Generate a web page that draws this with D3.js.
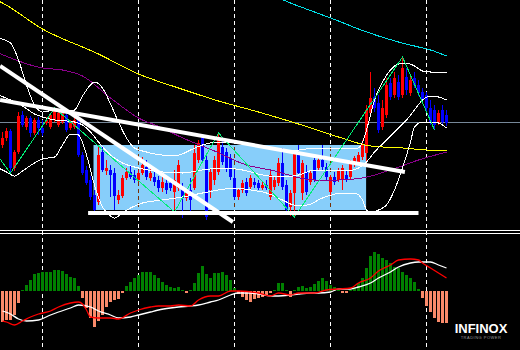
<!DOCTYPE html>
<html>
<head>
<meta charset="utf-8">
<script src="https://cdn.jsdelivr.net/npm/d3@7"></script>
<style>
  html, body { margin: 0; padding: 0; background: #000; overflow: hidden; }
  svg { display: block; }
</style>
</head>
<body>
<svg id="chart" width="520" height="350"></svg>
<script>
// candles, oldest first: [open, high, low, close]
const candles = [
  [155,168,152,162],[162,172,159,169],[169,171,127,132],[132,150,129,148],[148,188,146,184],
  [185,189,173,175],[173,184,170,182],[182,184,163,167],[167,182,165,180],[180,183,165,172],
  [172,180,164,167],[177,183,175,180],[173,187,171,185],[180,192,178,190],[175,189,173,187],
  [178,189,176,187],[185,188,168,170],[172,180,170,177],[173,183,171,180],[182,186,143,145],
  [145,148,125,127],[130,134,115,117],[120,124,100,103],[105,110,85,90],[98,154,95,145],
  [148,154,128,130],[129,140,125,132],[130,135,103,125],[127,132,90,104],[100,110,96,105],
  [104,125,102,122],[122,132,120,128],[128,134,121,123],[125,130,117,120],[120,130,118,127],
  [127,143,125,135],[133,140,120,123],[122,132,119,127],[123,128,114,118],[120,124,108,112],
  [112,124,108,118],[117,122,106,110],[117,122,109,112],[108,130,90,120],[112,140,109,135],
  [112,117,82,102],[102,110,99,107],[110,122,88,100],[112,155,110,147],[140,160,137,157],
  [163,166,138,140],[140,145,80,83],[110,132,102,128],[120,144,115,140],[128,167,125,160],
  [153,160,135,138],[148,152,128,132],[142,146,120,123],[122,130,100,103],[103,112,100,110],
  [110,120,107,117],[118,122,104,107],[113,125,110,122],[118,122,112,115],[117,120,110,112],
  [112,118,110,115],[115,120,110,112],[103,130,100,125],[113,124,110,120],[117,142,114,137],
  [137,152,110,113],[115,120,87,90],[93,110,84,107],[107,148,83,147],[145,155,125,127],
  [107,140,100,137],[128,135,105,108],[118,130,115,127],[140,145,118,120],[132,145,130,140],
  [140,155,130,133],[133,137,120,123],[108,125,105,123],[123,128,115,118],[120,132,118,130],
  [120,135,110,132],[125,130,118,120],[123,140,121,137],[135,144,133,142],[138,148,135,145],
  [143,160,140,155],[147,195,135,190],[187,228,185,202],[203,212,188,192],[197,205,167,170],
  [173,200,170,192],[185,222,182,215],[217,222,200,203],[205,228,202,222],[218,225,200,203],
  [205,243,202,232],[223,232,205,210],[207,225,204,220],[222,228,212,215],[215,220,204,207],
  [208,212,197,200],[205,208,188,192],[192,200,175,178],[190,195,170,175],[177,190,175,187],
  [190,195,174,178],[185,190,174,177]
];

// candle indexes where the day separators fall
const gridCandles = [10, 34, 58, 82, 106];
const levelPrice = 178.5;

// indicator lines as [candle index, value]
const maYellow = [[-1,299],[0,297],[10,271],[24,246],[34,226],[44,212],[54,199],[64,188],[74,176],[84,163],[92,154],[100,152],[106,150],[111,149]];
const maPurple = [[-1,247],[10,232],[15,230],[20,224],[27,202],[34,182],[40,172],[44,164],[53,149],[61,135],[67,130],[78,120],[84,120],[90,122],[97,130],[104,140],[111,148]];
const maCyan = [[68,304],[72,297],[78,288],[84,279],[89,271],[94,264],[99,258],[104,253],[107,250],[111,244]];
const zigzag = [[-1,143],[2,127],[13,192],[43,88],[54,167],[73,83],[100,243],[108,170]];
const bandUpper = [[-1,262],[2,257],[4,240],[6,215],[8,195],[10,188],[13,190],[16,189],[18,190],[20,204],[22,215],[23,218],[25,212],[27,196],[29,178],[31,162],[33,152],[36,148],[40,145],[44,145],[47,150],[50,155],[54,158],[58,157],[62,155],[66,153],[70,150],[74,150],[78,152],[82,152],[86,151],[89,152],[90,158],[91,170],[92,185],[93,200],[95,218],[97,230],[99,236],[101,237],[103,234],[105,229],[107,228],[109,228],[111,228]];
const bandMiddle = [[-1,205],[2,200],[5,194],[8,186],[10,183],[13,180],[16,179],[18,178],[20,175],[22,168],[24,158],[27,145],[30,137],[34,132],[40,128],[45,127],[50,130],[55,132],[60,130],[65,125],[70,123],[74,125],[78,130],[82,130],[86,129],[89,132],[91,138],[93,148],[96,160],[99,172],[101,180],[103,190],[105,200],[107,204],[109,203],[111,200]];
const bandLower = [[-1,132],[1,128],[3,124],[5,129],[8,137],[10,141],[13,143],[15,155],[17,166],[19,165],[21,145],[23,115],[25,93],[27,84],[28,82],[30,87],[32,92],[35,97],[40,100],[45,103],[50,107],[54,110],[58,112],[62,110],[66,107],[70,100],[73,95],[76,95],[80,102],[85,107],[88,107],[90,100],[91,90],[92,87],[94,90],[96,95],[98,110],[100,132],[102,158],[103,173],[105,178],[107,178],[109,177],[111,172]];

// drawn objects: trend lines and the range box, in [candle index, price]
const trendLines = [
  [[-0.6, 234], [57.6, 78]],
  [[-0.6, 200], [100.6, 128]],
  [[21.4, 87], [104, 87]]
];
const rangeBox = [[22.75, 155], [90.9, 90]];

// MACD pane
const macdHist = [
  -3.1,-2.9,-2.9,-2.4,-1.2,0.1,0.6,1.1,1.7,1.8,
  1.9,1.9,1.9,2.1,2.1,2.0,1.7,1.4,1.3,0.5,
  -0.7,-1.7,-2.7,-3.6,-3.0,-2.4,-1.6,-1.1,-0.9,-0.8,
  -0.2,0.5,0.9,1.3,1.6,1.9,1.9,1.9,1.6,1.3,
  0.9,0.6,0.4,0.3,0.4,0.1,-0.2,0.1,0.8,1.8,
  2.5,1.7,1.3,1.8,1.8,1.9,1.6,1.1,0.3,-0.3,
  -0.6,-0.9,-1.1,-0.8,-0.7,-0.6,-0.5,-0.2,0.1,0.8,
  0.8,0.1,-0.6,0.1,0.4,0.5,0.3,0.4,0.7,1.0,
  1.3,1.0,0.6,0.4,0.1,-0.2,-0.2,0.1,0.4,0.8,
  1.3,2.3,3.5,3.9,3.7,3.3,3.1,2.8,2.4,2.3,
  1.9,1.6,1.3,0.9,0.2,-0.7,-1.5,-2.1,-2.7,-3.1,
  -3.2,-3.2
];
const macdWhite = [[0,-2.0],[2,-2.3],[4,-2.8],[6,-3.0],[9,-2.9],[12,-2.4],[14,-2.1],[17,-1.7],[19,-1.4],[22,-1.6],[24,-2.0],[27,-2.4],[29,-2.7],[32,-2.6],[34,-2.4],[37,-2.1],[39,-1.9],[42,-1.7],[44,-1.6],[47,-1.5],[49,-1.4],[52,-1.1],[54,-0.9],[57,-0.4],[59,-0.2],[62,-0.2],[64,-0.3],[67,-0.5],[69,-0.5],[72,-0.4],[74,-0.3],[77,-0.2],[79,-0.2],[82,-0.1],[84,0.2],[87,0.2],[89,0.4],[92,0.8],[94,1.3],[97,1.9],[99,2.4],[102,2.8],[104,2.9],[107,2.9],[109,2.6],[111,2.3]];
const macdRed = [[0,-3.0],[1,-3.1],[3,-3.4],[5,-3.0],[7,-2.6],[9,-2.3],[12,-2.0],[14,-1.6],[17,-1.2],[19,-1.1],[20,-1.3],[21,-1.9],[22,-2.6],[24,-2.7],[27,-2.7],[29,-2.8],[32,-2.2],[34,-1.9],[37,-1.6],[39,-1.5],[42,-1.5],[44,-1.4],[47,-1.5],[49,-0.9],[52,-0.5],[54,-0.5],[57,0.0],[59,0.0],[64,-0.2],[67,-0.5],[69,-0.2],[72,-0.4],[74,-0.2],[78,-0.2],[81,0.1],[84,0.2],[87,0.3],[89,0.8],[92,1.3],[94,2.0],[97,2.6],[99,3.1],[102,3.2],[104,3.1],[105,2.8],[107,2.3],[109,1.8],[111,1.3]];

const W = 520, H = 350;
const svg = d3.select("#chart");

const x = d3.scaleLinear().domain([0, 111]).range([2.5, 446.5]);
const y = d3.scaleLinear().domain([300, 67]).range([0, 233]);
const yMacd = d3.scaleLinear().domain([-5.9, 5.6]).range([350, 235]);

svg.append("rect").attr("width", W).attr("height", H).attr("fill", "#000");

svg.append("clipPath").attr("id", "mainClip")
  .append("rect").attr("x", 0).attr("y", 0).attr("width", W).attr("height", 229);

// day separators, full height
svg.append("g")
  .selectAll("line")
  .data(gridCandles)
  .join("line")
    .attr("x1", d => x(d)).attr("x2", d => x(d))
    .attr("y1", 0).attr("y2", H)
    .attr("stroke", "#fff")
    .attr("stroke-dasharray", "4,3")
    .attr("shape-rendering", "crispEdges");

// range box (background object)
const bx0 = x(rangeBox[0][0]), bx1 = x(rangeBox[1][0]);
const by0 = y(rangeBox[0][1]), by1 = y(rangeBox[1][1]);
svg.append("rect")
  .attr("x", bx0).attr("y", by0)
  .attr("width", bx1 - bx0).attr("height", by1 - by0)
  .attr("fill", "#87cefa");

svg.append("clipPath").attr("id", "boxClip")
  .append("rect")
    .attr("x", bx0).attr("y", by0)
    .attr("width", bx1 - bx0).attr("height", by1 - by0);

// separators inside the box come out xor-coloured
svg.append("g")
  .attr("clip-path", "url(#boxClip)")
  .selectAll("line")
  .data(gridCandles)
  .join("line")
    .attr("x1", d => x(d)).attr("x2", d => x(d))
    .attr("y1", 0).attr("y2", H)
    .attr("stroke", "#783105")
    .attr("stroke-dasharray", "4,3")
    .attr("shape-rendering", "crispEdges");

// price level line
svg.append("line")
  .attr("x1", 0).attr("x2", W)
  .attr("y1", Math.round(y(levelPrice)) + 0.5).attr("y2", Math.round(y(levelPrice)) + 0.5)
  .attr("stroke", "#778899")
  .attr("shape-rendering", "crispEdges");

// candles
const bull = "#ff0000", bear = "#0000ff";
const candleG = svg.append("g").attr("shape-rendering", "crispEdges");
candleG.selectAll("line")
  .data(candles)
  .join("line")
    .attr("x1", (d, i) => x(i)).attr("x2", (d, i) => x(i))
    .attr("y1", d => y(d[1])).attr("y2", d => y(d[2]))
    .attr("stroke", d => d[3] >= d[0] ? bull : bear);
candleG.selectAll("rect")
  .data(candles)
  .join("rect")
    .attr("x", (d, i) => x(i) - 1.5)
    .attr("y", d => y(Math.max(d[0], d[3])))
    .attr("width", 3)
    .attr("height", d => Math.max(1, Math.abs(y(d[0]) - y(d[3]))))
    .attr("fill", d => d[3] >= d[0] ? bull : bear);

// indicator lines, aliased like the terminal draws them
const priceLine = d3.line()
  .x(d => x(d[0]))
  .y(d => y(d[1]))
  .curve(d3.curveMonotoneX);

const thinLines = [
  { pts: maYellow, color: "#ffff00" },
  { pts: maPurple, color: "#8b008b" },
  { pts: maCyan, color: "#00e0e8" },
  { pts: bandUpper, color: "#ffffff" },
  { pts: bandMiddle, color: "#ffffff" },
  { pts: bandLower, color: "#ffffff" }
];
svg.append("g")
  .attr("clip-path", "url(#mainClip)")
  .attr("shape-rendering", "crispEdges")
  .selectAll("path")
  .data(thinLines)
  .join("path")
    .attr("d", d => priceLine(d.pts))
    .attr("fill", "none")
    .attr("stroke", d => d.color)
    .attr("stroke-width", 1);

svg.append("path")
  .attr("d", d3.line().x(d => x(d[0])).y(d => y(d[1]))(zigzag))
  .attr("clip-path", "url(#mainClip)")
  .attr("shape-rendering", "crispEdges")
  .attr("fill", "none")
  .attr("stroke", "#00ee77")
  .attr("stroke-width", 1);

// trend lines
svg.append("g")
  .attr("clip-path", "url(#mainClip)")
  .selectAll("line")
  .data(trendLines)
  .join("line")
    .attr("x1", d => x(d[0][0])).attr("y1", d => y(d[0][1]))
    .attr("x2", d => x(d[1][0])).attr("y2", d => y(d[1][1]))
    .attr("stroke", "#fff")
    .attr("stroke-width", 4);

// pane separator
svg.append("g")
  .selectAll("line")
  .data([230.5, 233.5])
  .join("line")
    .attr("x1", 0).attr("x2", W)
    .attr("y1", d => d).attr("y2", d => d)
    .attr("stroke", "#fff")
    .attr("shape-rendering", "crispEdges");

// MACD histogram
svg.append("g")
  .attr("shape-rendering", "crispEdges")
  .selectAll("rect")
  .data(macdHist)
  .join("rect")
    .attr("x", (d, i) => x(i) - 1.5)
    .attr("width", 3)
    .attr("y", d => Math.min(yMacd(0), yMacd(d)))
    .attr("height", d => Math.max(1, Math.abs(yMacd(d) - yMacd(0))))
    .attr("fill", d => d >= 0 ? "#008000" : "#fa8a6a");

const macdLine = d3.line()
  .x(d => x(d[0]))
  .y(d => yMacd(d[1]))
  .curve(d3.curveMonotoneX);

svg.append("path").attr("d", macdLine(macdWhite))
  .attr("fill", "none").attr("stroke", "#fff").attr("stroke-width", 1.3);
svg.append("path").attr("d", macdLine(macdRed))
  .attr("fill", "none").attr("stroke", "#ff0000").attr("stroke-width", 1.3);

// broker logo
svg.append("text")
  .attr("x", 481).attr("y", 333)
  .attr("text-anchor", "middle")
  .attr("font-family", "Liberation Sans, Arial, sans-serif")
  .attr("font-weight", "bold")
  .attr("font-size", 13)
  .attr("fill", "#fff")
  .text("INFINOX");
svg.append("text")
  .attr("x", 481).attr("y", 339)
  .attr("text-anchor", "middle")
  .attr("font-family", "Liberation Sans, Arial, sans-serif")
  .attr("font-size", 4)
  .attr("letter-spacing", 0.5)
  .attr("fill", "#9a9a9a")
  .text("TRADING POWER");
</script>
</body>
</html>
